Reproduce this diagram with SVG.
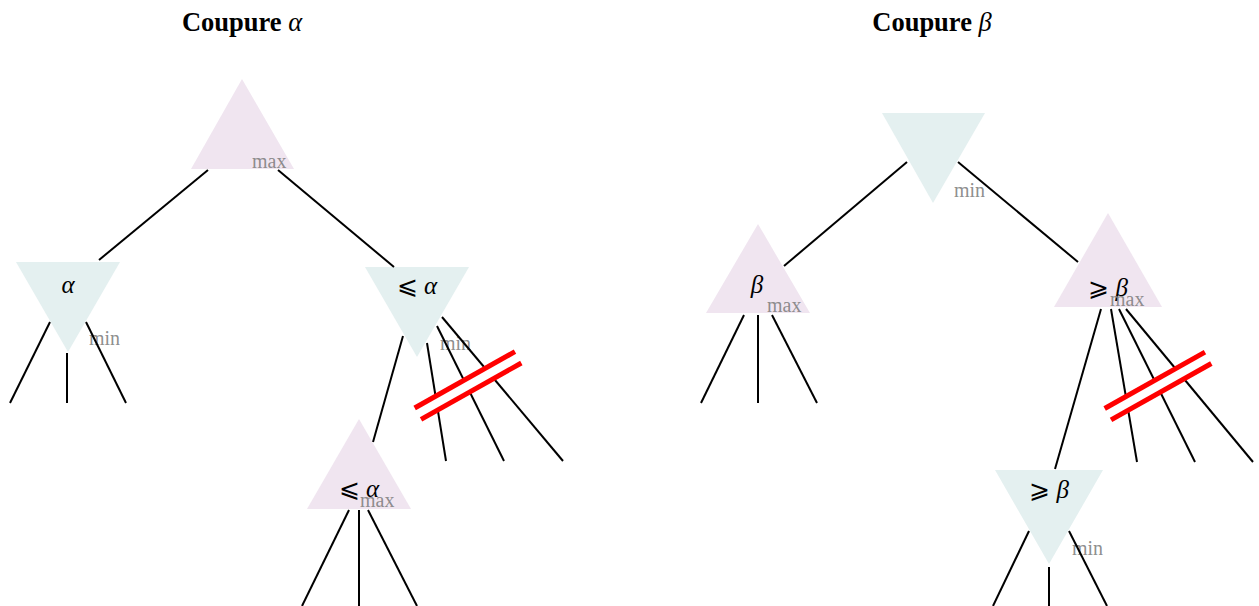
<svg xmlns="http://www.w3.org/2000/svg" width="1259" height="606" viewBox="0 0 1259 606">
<style>
.title{font-family:"Liberation Serif","DejaVu Serif",serif;font-weight:bold;font-size:26.5px;fill:#000}
.gr{font-style:italic}
.max{fill:#f0e5f0}
.min{fill:#e4f0f0}
.lab{font-family:"Liberation Serif","DejaVu Serif",serif;font-size:25px;fill:#000;text-anchor:middle}
.lab .g{font-style:italic}
.tag{font-family:"Liberation Serif","DejaVu Serif",serif;font-size:20px;fill:#808080;fill-opacity:0.9}
.edge{stroke:#000;stroke-width:2;fill:none}
.cutbg{fill:#fff}
.cutln{stroke:#ff0000;stroke-width:5;fill:none}
</style>
<rect width="1259" height="606" fill="#fff"/>
<text class="title" x="242" y="31" text-anchor="middle">Coupure <tspan class="gr" font-weight="normal">α</tspan></text>
<text class="title" x="932" y="31" text-anchor="middle">Coupure <tspan class="gr" font-weight="normal">β</tspan></text>

<g id="nodeA_root">
<polygon class="max" points="242,79 191,169 294,169"/>
<text class="tag" x="252" y="168">max</text>
</g>
<g id="nodeA_left">
<polygon class="min" points="16,262 120,262 68,352"/>
<text class="lab" x="68" y="293"><tspan class="g">α</tspan></text>
<text class="tag" x="89" y="345">min</text>
</g>
<g id="nodeA_right">
<polygon class="min" points="365,267 469,267 417,357"/>
<text class="lab" x="417" y="294">⩽ <tspan class="g">α</tspan></text>
<text class="tag" x="440" y="350">min</text>
</g>
<g id="nodeA_sub">
<polygon class="max" points="359,419 307,509 411,509"/>
<text class="lab" x="359" y="497">⩽ <tspan class="g">α</tspan></text>
<text class="tag" x="360" y="507">max</text>
</g>

<g id="nodeB_root">
<polygon class="min" points="882,113 985,113 933,203"/>
<text class="tag" x="954" y="197">min</text>
</g>
<g id="nodeB_left">
<polygon class="max" points="758,224 706,313 810,313"/>
<text class="lab" x="757" y="293"><tspan class="g">β</tspan></text>
<text class="tag" x="767" y="312">max</text>
</g>
<g id="nodeB_right">
<polygon class="max" points="1108,213 1054,307 1162,307"/>
<text class="lab" x="1108" y="296">⩾ <tspan class="g">β</tspan></text>
<text class="tag" x="1110" y="306">max</text>
</g>
<g id="nodeB_sub">
<polygon class="min" points="995,470 1103,470 1049,564"/>
<text class="lab" x="1049" y="498">⩾ <tspan class="g">β</tspan></text>
<text class="tag" x="1072" y="555">min</text>
</g>

<g id="connectors">
<line class="edge" x1="208" y1="170" x2="99" y2="260"/>
<line class="edge" x1="278" y1="170" x2="394" y2="267"/>
<line class="edge" x1="50" y1="322" x2="10" y2="403"/>
<line class="edge" x1="67" y1="353" x2="67" y2="403"/>
<line class="edge" x1="86" y1="322" x2="126" y2="403"/>
<line class="edge" x1="403" y1="336" x2="373" y2="442"/>
<line class="edge" x1="427" y1="343" x2="446" y2="461"/>
<line class="edge" x1="437" y1="326" x2="504" y2="461"/>
<line class="edge" x1="442" y1="317" x2="563" y2="461"/>
<line class="edge" x1="349" y1="510" x2="302" y2="606"/>
<line class="edge" x1="359" y1="510" x2="359" y2="606"/>
<line class="edge" x1="368" y1="510" x2="417" y2="606"/>

<line class="edge" x1="907" y1="162" x2="784" y2="266"/>
<line class="edge" x1="958" y1="162" x2="1078" y2="262"/>
<line class="edge" x1="744" y1="315" x2="701" y2="403"/>
<line class="edge" x1="758" y1="315" x2="758" y2="403"/>
<line class="edge" x1="772" y1="315" x2="817" y2="403"/>
<line class="edge" x1="1101" y1="309" x2="1055" y2="469"/>
<line class="edge" x1="1111" y1="309" x2="1137" y2="462"/>
<line class="edge" x1="1119" y1="309" x2="1195" y2="462"/>
<line class="edge" x1="1126" y1="309" x2="1253" y2="462"/>
<line class="edge" x1="1029" y1="531" x2="993" y2="606"/>
<line class="edge" x1="1049" y1="567" x2="1049" y2="606"/>
<line class="edge" x1="1069" y1="531" x2="1107" y2="606"/>
</g>

<g id="cuts">
<g transform="translate(468 385.5) rotate(-29.3)">
<rect class="cutbg" x="-57.5" y="-6.5" width="115" height="13"/>
<line class="cutln" x1="-57.5" y1="-6.5" x2="57.5" y2="-6.5"/>
<line class="cutln" x1="-57.5" y1="6.5" x2="57.5" y2="6.5"/>
</g>
<g transform="translate(1158 386) rotate(-29.3)">
<rect class="cutbg" x="-57.5" y="-6.5" width="115" height="13"/>
<line class="cutln" x1="-57.5" y1="-6.5" x2="57.5" y2="-6.5"/>
<line class="cutln" x1="-57.5" y1="6.5" x2="57.5" y2="6.5"/>
</g>
</g>
</svg>
